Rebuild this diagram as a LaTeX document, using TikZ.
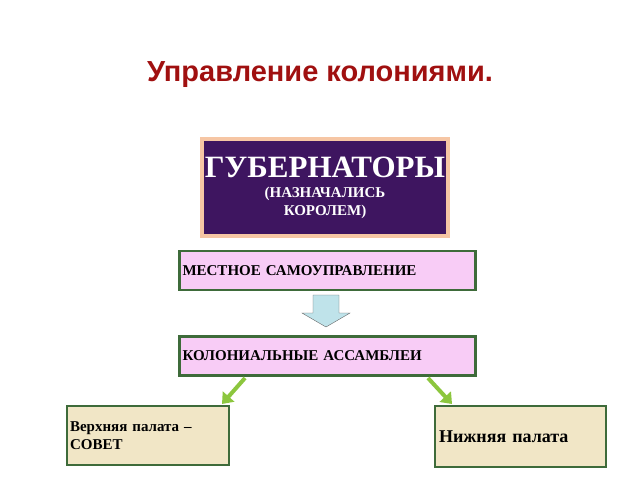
\documentclass[tikz,border=0pt]{standalone}
\usepackage{fontspec}
\setmainfont{Liberation Serif}
\newfontfamily\sansf{Liberation Sans}
\usetikzlibrary{arrows.meta}
\definecolor{boxgreen}{HTML}{3E6B3A}
\definecolor{pinkf}{HTML}{F8CCF6}
\definecolor{beige}{HTML}{F1E6C6}
\definecolor{purp}{HTML}{3E1560}
\definecolor{peach}{HTML}{F6C6A4}
\definecolor{titlered}{HTML}{A01010}
\definecolor{arrowgreen}{HTML}{8CC63E}
\definecolor{arrowblue}{HTML}{BFE3EA}
\tikzset{
 pinkbox/.style={draw=boxgreen,line width=2.5pt,fill=pinkf,minimum width=296pt,minimum height=39pt,font=\bfseries\fontsize{15}{18}\selectfont,align=left,text width=290pt,inner xsep=3pt},
 beigebox/.style={draw=boxgreen,line width=2.5pt,fill=beige,font=\bfseries\fontsize{15}{18}\selectfont,align=left},
 garrow/.style={arrowgreen,line width=4pt,-{Triangle[length=10pt,width=15pt]}}
}
\begin{document}
\begin{tikzpicture}[x=1pt,y=-1pt]
\useasboundingbox (0,0) rectangle (640,480);
\node (title) at (320,75) {\sansf\bfseries\fontsize{29}{32}\selectfont\color{titlered}Управление колониями.};
\node[draw=peach,line width=4pt,fill=purp,minimum width=244pt,minimum height=97pt,align=center,text=white,font=\bfseries\fontsize{15}{18}\selectfont] (gov) at (325,187.5)
 {\fontsize{31}{33}\selectfont ГУБЕРНАТОРЫ\\[2pt] (НАЗНАЧАЛИСЬ\\ КОРОЛЕМ)};
\node[pinkbox] (local) at (327.5,270.5) {МЕСТНОЕ САМОУПРАВЛЕНИЕ};
\node[pinkbox] (col) at (327.5,356) {КОЛОНИАЛЬНЫЕ АССАМБЛЕИ};
\draw[draw=black!60,fill=arrowblue] (313,295) -- (339,295) -- (339,313) -- (350,313) -- (326,327) -- (302,313) -- (313,313) -- cycle;
\node[beigebox,minimum width=162pt,minimum height=59pt,text width=156pt,inner xsep=3pt] (upper) at (148,435.5) {Верхняя палата –\\СОВЕТ};
\node[beigebox,minimum width=171pt,minimum height=61pt,text width=163pt,font=\bfseries\fontsize{18}{20}\selectfont] (lower) at (520.5,436.5) {Нижняя палата};
\coordinate (a1) at (245,378);
\coordinate (b1) at (222,404);
\coordinate (a2) at (428,378);
\coordinate (b2) at (452,404);
\draw[garrow] (a1) -- (b1);
\draw[garrow] (a2) -- (b2);
\end{tikzpicture}
\end{document}
